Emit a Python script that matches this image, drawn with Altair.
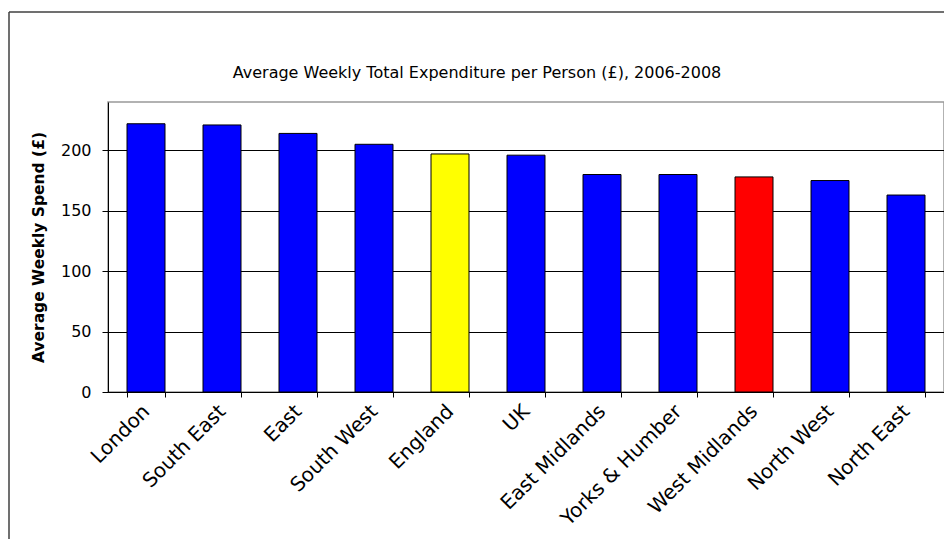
import altair as alt
import pandas as pd

regions = ["London", "South East", "East", "South West", "England", "UK",
           "East Midlands", "Yorks & Humber", "West Midlands", "North West", "North East"]
spend = [222, 221, 214, 205, 197, 196, 180, 180, 178, 175, 163]
colours = ["#0000FF", "#0000FF", "#0000FF", "#0000FF", "#FFFF00", "#0000FF",
           "#0000FF", "#0000FF", "#FF0000", "#0000FF", "#0000FF"]
y_ticks = [0, 50, 100, 150, 200]
chart_title = "Average Weekly Total Expenditure per Person (£), 2006-2008"
y_title = "Average Weekly Spend (£)"

df = pd.DataFrame({"region": regions, "spend": spend, "colour": colours})

FONT = "DejaVu Sans"

bars = alt.Chart(df).mark_bar(stroke="black", strokeWidth=1).encode(
    x=alt.X("region:N", sort=regions,
            scale=alt.Scale(paddingInner=0.5, paddingOuter=0.25),
            axis=alt.Axis(title=None, labelAngle=-45, labelAlign="right",
                          labelBaseline="middle", tickBand="extent",
                          tickSize=5, labelPadding=11, labelFontSize=20,
                          grid=False)),
    y=alt.Y("spend:Q", scale=alt.Scale(domain=[0, 240], nice=False, zero=True),
            axis=alt.Axis(values=y_ticks, title=y_title, tickSize=6,
                          labelPadding=11, labelFontSize=16, titleFontSize=15.5,
                          titleFontWeight="bold", titlePadding=14,
                          grid=True, gridColor="black", gridWidth=1,
                          gridOpacity=1)),
    color=alt.Color("colour:N", scale=None, legend=None),
)

frame_df = pd.DataFrame({"k": [0]})
frame_v = alt.Chart(frame_df).mark_rule(color="#404040", strokeWidth=1.5).encode(
    x=alt.value(-99), y=alt.value(-90), y2=alt.value(460))
frame_h = alt.Chart(frame_df).mark_rule(color="#404040", strokeWidth=1.5).encode(
    x=alt.value(-99), x2=alt.value(900), y=alt.value(-90))
title_mark = alt.Chart(frame_df).mark_text(
    font=FONT, fontSize=16, color="black", align="center", baseline="middle"
).encode(x=alt.value(369), y=alt.value(-29), text=alt.value(chart_title))

chart = alt.layer(frame_v, frame_h, title_mark, bars).properties(
    width=836,
    height=290,
    padding={"left": 100, "top": 94, "right": 0, "bottom": 147},
    autosize=alt.AutoSizeParams(type="none"),
).configure_axis(
    labelFont=FONT, titleFont=FONT, labelColor="black", titleColor="black",
    tickColor="black", domainColor="black", domainWidth=1, tickWidth=1,
).configure_view(
    stroke="#999999", strokeWidth=1.5
)

chart.save("out.html", embed_options={"renderer": "svg", "actions": False})
